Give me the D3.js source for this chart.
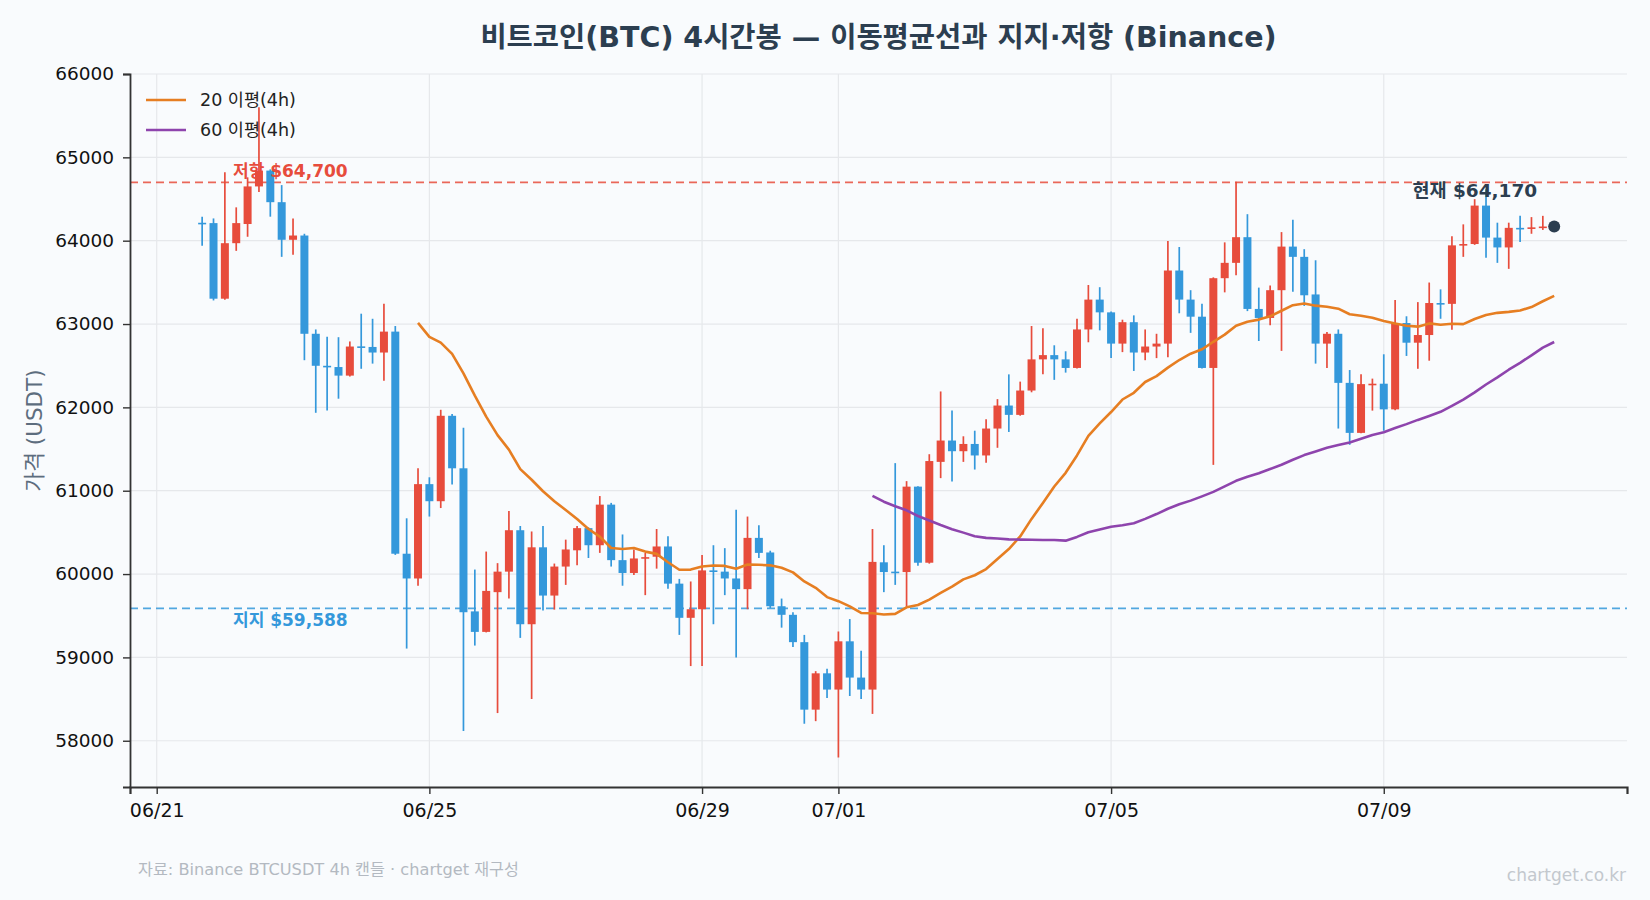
<!DOCTYPE html>
<html lang="ko">
<head>
<meta charset="utf-8">
<script src="https://cdn.jsdelivr.net/npm/d3@7"></script>
<style>
  body { margin: 0; background: #f9fbfd; }
  svg { display: block; font-family: "DejaVu Sans", "Noto Sans CJK KR", sans-serif; }
</style>
</head>
<body>
<svg id="chart" width="1650" height="900"></svg>
<script>
// 4h candles, first one opens 06/21 16:00
const startTime = new Date(2024, 5, 21, 16);
const stepHours = 4;

const opens = [
  64215, 64211, 63304, 63970, 64200, 64651, 64841, 64462, 64011, 64062,
  62883, 62499, 62484, 62381, 62732, 62725, 62658, 62909, 60244, 59947,
  61079, 60874, 61899, 61269, 59552, 59306, 59783, 60029, 60526, 59398,
  60321, 59742, 60090, 60285, 60551, 60346, 60833, 60167, 60013, 60195,
  60208, 60331, 59885, 59475, 59578, 60044, 60029, 59947, 59819, 60434,
  60259, 59614, 59511, 59183, 58373, 58809, 58614, 59193, 58758, 58614,
  60141, 60029, 60024, 61049, 60136, 61346, 61602, 61474, 61561, 61423,
  61746, 62022, 61910, 62202, 62576, 62627, 62576, 62473, 62935, 63293,
  63140, 62765, 63022, 62658, 62730, 62765, 63642, 63293, 63088, 62473,
  63550, 63734, 64042, 63181, 63073, 63406, 63929, 63806, 63355, 62765,
  62883, 62294, 61694, 62274, 62284, 61976, 63012, 62776, 62868, 63252,
  63242, 63944, 63960, 64421, 64037, 63919, 64154, 64146, 64160
];
const highs = [
  64288, 64267, 64821, 64400, 64760, 65600, 64856, 64667, 64267, 64083,
  62935, 62847, 62842, 62791, 63124, 63063, 63242, 62976, 60669, 61269,
  61161, 61971, 61920, 61756, 60054, 60270, 60131, 60757, 60577, 60511,
  60577, 60126, 60413, 60577, 60560, 60936, 60854, 60475, 60295, 60254,
  60541, 60454, 59942, 59911, 60229, 60346, 60311, 60772, 60690, 60587,
  60280, 59706, 59542, 59270, 58835, 58865, 59311, 59460, 59081, 60541,
  60346, 61331, 61115, 61055, 61438, 62191, 61961, 61653, 61720, 61858,
  62099, 62396, 62309, 62976, 62950, 62745, 62673, 63063, 63468, 63442,
  63150, 63052, 63104, 62935, 62883, 63995, 63924, 63406, 63242, 63560,
  63980, 64708, 64318, 63437, 63462, 64103, 64252, 63898, 63765, 62904,
  62935, 62448, 62396, 62345, 62637, 63288, 63093, 63263, 63498, 63416,
  64052, 64196, 64498, 64616, 64216, 64216, 64298, 64283, 64298
];
const lows = [
  63939, 63283, 63290, 63878, 64047, 64585, 64288, 63806, 63832, 62566,
  61935, 61961, 62104, 62370, 62463, 62525, 62320, 60230, 59106, 59860,
  60690, 60792, 61074, 58117, 59142, 59300, 58332, 59706, 59234, 58501,
  59562, 59573, 59870, 60106, 60193, 60254, 60090, 59860, 59988, 59747,
  60065, 59824, 59270, 58896, 58896, 59398, 59747, 59000, 59578, 60193,
  59593, 59357, 59126, 58204, 58235, 58512, 57799, 58537, 58501, 58322,
  59783, 59870, 59603, 60100, 60125, 61151, 61110, 61346, 61254, 61336,
  61515, 61705, 61900, 62181, 62396, 62330, 62417, 62465, 62781, 62924,
  62591, 62663, 62437, 62566, 62591, 62602, 63129, 62894, 62465, 61310,
  63380, 63585, 63155, 62796, 62986, 62678, 63386, 63217, 62525, 62473,
  61746, 61551, 61690, 61961, 61720, 61966, 62617, 62463, 62560, 63063,
  62930, 63806, 63950, 63796, 63734, 63662, 63985, 64083, 64129
];
const closes = [
  64205, 63304, 63970, 64211, 64651, 64841, 64462, 64011, 64062, 62883,
  62499, 62489, 62381, 62730, 62725, 62658, 62909, 60244, 59947, 61079,
  60874, 61899, 61269, 59542, 59306, 59798, 60029, 60526, 59398, 60321,
  59742, 60090, 60295, 60551, 60346, 60833, 60167, 60013, 60187, 60203,
  60331, 59885, 59475, 59578, 60044, 60029, 59947, 59819, 60434, 60254,
  59614, 59511, 59183, 58373, 58809, 58614, 59193, 58758, 58614, 60146,
  60024, 60019, 61049, 60136, 61356, 61602, 61474, 61561, 61423, 61746,
  62022, 61910, 62202, 62576, 62627, 62576, 62473, 62935, 63293, 63140,
  62765, 63022, 62658, 62730, 62765, 63642, 63293, 63088, 62473, 63550,
  63734, 64042, 63181, 63073, 63406, 63929, 63806, 63345, 62765, 62883,
  62294, 61694, 62279, 62284, 61976, 63012, 62776, 62868, 63252, 63242,
  63944, 63960, 64421, 64037, 63919, 64154, 64146, 64160, 64170
];
// live price of the running (undrawn) candle
const currentPrice = 64170;

const maPeriods = [20, 60];
const maLabels = ["20 이평(4h)", "60 이평(4h)"];
const resistance = 64700;
const support = 59588;
const yTicks = [58000, 59000, 60000, 61000, 62000, 63000, 64000, 65000, 66000];

const upColor = "#e74c3c";
const downColor = "#3498db";
const maColors = ["#e67e22", "#8e44ad"];

const candles = closes.map((c, i) => ({
  date: d3.timeHour.offset(startTime, i * stepHours),
  open: opens[i],
  high: highs[i],
  low: lows[i],
  close: c
}));

const currentDate = d3.timeHour.offset(startTime, closes.length * stepHours);
const allCloses = closes.concat([currentPrice]);
const allDates = candles.map(d => d.date).concat([currentDate]);

const movingAvg = n => allCloses.map((c, i) => ({
  date: allDates[i],
  value: i < n - 1 ? null : d3.mean(allCloses.slice(i - n + 1, i + 1))
}));

const margin = { top: 74, right: 23, bottom: 113, left: 130 };
const width = 1650, height = 900;

const svg = d3.select("#chart");

const x = d3.scaleTime()
  .domain([new Date(2024, 5, 20, 14, 36), new Date(2024, 6, 12, 13, 38)])
  .range([margin.left, width - margin.right]);

const y = d3.scaleLinear()
  .domain([57445, 66000])
  .range([height - margin.bottom, margin.top]);

const xTicks = x.ticks(d3.timeDay.every(4));

// grid
svg.append("g")
  .selectAll("line.hgrid")
  .data(yTicks)
  .join("line")
  .attr("class", "hgrid")
  .attr("x1", margin.left)
  .attr("x2", width - margin.right)
  .attr("y1", d => y(d))
  .attr("y2", d => y(d))
  .attr("stroke", "#e6e8eb")
  .attr("stroke-width", 1.2);

svg.append("g")
  .selectAll("line.vgrid")
  .data(xTicks)
  .join("line")
  .attr("class", "vgrid")
  .attr("x1", d => x(d))
  .attr("x2", d => x(d))
  .attr("y1", margin.top)
  .attr("y2", height - margin.bottom)
  .attr("stroke", "#e6e8eb")
  .attr("stroke-width", 1.2);

// support / resistance
const levels = [
  { value: resistance, color: upColor, label: "저항 $" + d3.format(",")(resistance), dy: -5 },
  { value: support, color: downColor, label: "지지 $" + d3.format(",")(support), dy: 18 }
];

svg.append("g")
  .selectAll("line")
  .data(levels)
  .join("line")
  .attr("x1", margin.left)
  .attr("x2", width - margin.right)
  .attr("y1", d => y(d.value))
  .attr("y2", d => y(d.value))
  .attr("stroke", d => d.color)
  .attr("stroke-opacity", 0.85)
  .attr("stroke-width", 1.8)
  .attr("stroke-dasharray", "8,5");

// candles
const bodyW = 8;
const candleG = svg.append("g")
  .selectAll("g")
  .data(candles)
  .join("g");

candleG.append("line")
  .attr("x1", d => x(d.date))
  .attr("x2", d => x(d.date))
  .attr("y1", d => y(d.high))
  .attr("y2", d => y(d.low))
  .attr("stroke", d => d.close >= d.open ? upColor : downColor)
  .attr("stroke-width", 1.7);

candleG.append("rect")
  .attr("x", d => x(d.date) - bodyW / 2)
  .attr("width", bodyW)
  .attr("y", d => y(Math.max(d.open, d.close)))
  .attr("height", d => Math.max(1.6, Math.abs(y(d.open) - y(d.close))))
  .attr("fill", d => d.close >= d.open ? upColor : downColor);

// moving averages
const line = d3.line()
  .defined(d => d.value != null)
  .x(d => x(d.date))
  .y(d => y(d.value));

maPeriods.forEach((n, k) => {
  svg.append("path")
    .datum(movingAvg(n))
    .attr("fill", "none")
    .attr("stroke", maColors[k])
    .attr("stroke-width", 2.6)
    .attr("stroke-linejoin", "round")
    .attr("d", line);
});

// level labels
svg.append("g")
  .selectAll("text")
  .data(levels)
  .join("text")
  .attr("x", margin.left + 103)
  .attr("y", d => y(d.value) + d.dy)
  .attr("fill", d => d.color)
  .attr("font-size", 17)
  .attr("font-weight", "bold")
  .text(d => d.label);

// current price marker
const dotX = x(currentDate);

svg.append("circle")
  .attr("cx", dotX)
  .attr("cy", y(currentPrice))
  .attr("r", 6)
  .attr("fill", "#2c3e50");

svg.append("text")
  .attr("x", dotX - 17)
  .attr("y", y(currentPrice) - 30)
  .attr("text-anchor", "end")
  .attr("fill", "#2c3e50")
  .attr("font-size", 18.5)
  .attr("font-weight", "bold")
  .text("현재 $" + d3.format(",")(currentPrice));

// axes
const xAxis = svg.append("g")
  .attr("transform", `translate(0,${height - margin.bottom})`)
  .call(d3.axisBottom(x)
    .tickValues(xTicks)
    .tickFormat(d3.timeFormat("%m/%d"))
    .tickSize(7)
    .tickPadding(10));

xAxis.select(".domain").attr("stroke", "#333").attr("stroke-width", 2.2);

const yAxis = svg.append("g")
  .attr("transform", `translate(${margin.left},0)`)
  .call(d3.axisLeft(y)
    .tickValues(yTicks)
    .tickFormat(d3.format("d"))
    .tickSize(7)
    .tickPadding(9));

yAxis.select(".domain").attr("stroke", "#333").attr("stroke-width", 1.8);

[xAxis, yAxis].forEach(a => {
  a.selectAll(".tick line").attr("stroke", "#333").attr("stroke-width", 1.4);
  a.selectAll(".tick text")
    .attr("fill", "#111")
    .attr("font-family", "DejaVu Sans, sans-serif");
});
yAxis.selectAll(".tick text").attr("font-size", 18.5);
xAxis.selectAll(".tick text").attr("font-size", 19);

// title, axis label
svg.append("text")
  .attr("x", (margin.left + width - margin.right) / 2)
  .attr("y", 47)
  .attr("text-anchor", "middle")
  .attr("fill", "#2c3e50")
  .attr("font-size", 28.5)
  .attr("font-weight", "bold")
  .text("비트코인(BTC) 4시간봉 — 이동평균선과 지지·저항 (Binance)");

svg.append("text")
  .attr("transform", `translate(42,${(margin.top + height - margin.bottom) / 2}) rotate(-90)`)
  .attr("text-anchor", "middle")
  .attr("fill", "#5d6d7e")
  .attr("font-size", 21.5)
  .text("가격 (USDT)");

// legend
const legend = svg.append("g")
  .selectAll("g")
  .data(maLabels)
  .join("g")
  .attr("transform", (d, i) => `translate(146,${100 + i * 30})`);

legend.append("line")
  .attr("x2", 40)
  .attr("stroke", (d, i) => maColors[i])
  .attr("stroke-width", 2.6);

legend.append("text")
  .attr("x", 54)
  .attr("y", 6)
  .attr("fill", "#222")
  .attr("font-size", 17.5)
  .text(d => d);

// footer
svg.append("text")
  .attr("x", 138)
  .attr("y", 875)
  .attr("fill", "#b3b9c1")
  .attr("font-size", 16.2)
  .text("자료: Binance BTCUSDT 4h 캔들 · chartget 재구성");

svg.append("text")
  .attr("x", 1626)
  .attr("y", 881)
  .attr("text-anchor", "end")
  .attr("fill", "#c3c8ce")
  .attr("font-size", 17)
  .text("chartget.co.kr");
</script>
</body>
</html>
